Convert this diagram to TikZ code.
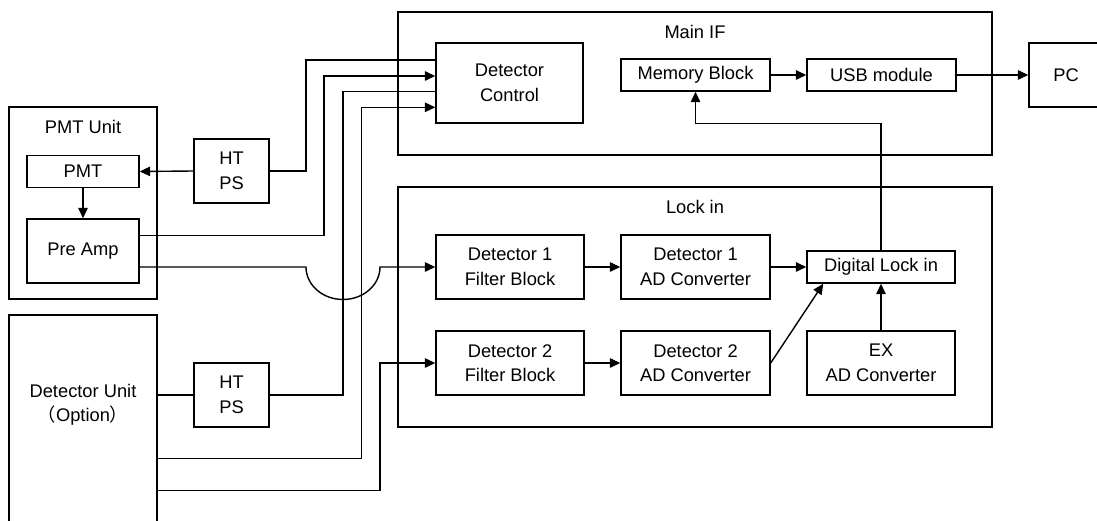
\documentclass[tikz,border=0pt]{standalone}
\usepackage{fontspec}
\setmainfont{Liberation Sans}
\newfontfamily\cjk{Noto Sans CJK SC}
\usetikzlibrary{arrows.meta}
\begin{document}
\begin{tikzpicture}[x=1pt,y=-1pt,
  every node/.style={font=\fontsize{18.3}{24.5}\selectfont},
  box/.style={draw,line width=1.4pt,inner sep=0pt,align=center},
  conn/.style={line width=1.4pt},
  arr/.style={line width=1.4pt,-{Triangle[length=10.5pt,width=9.5pt]}},
  title/.style={inner sep=0pt}]
\useasboundingbox (0,0) rectangle (1097,521);
\clip (0,0) rectangle (1097,521);
% containers
\node[box,minimum width=594,minimum height=143] (mainif) at (695,83.5) {};
\node[title] (mainift) at (695,32) {Main IF};
\node[box,minimum width=594,minimum height=240] (lockin) at (695,307) {};
\node[title] (lockint) at (695,207) {Lock in};
\node[box,minimum width=148,minimum height=192] (pmtunit) at (83,203) {};
\node[title] (pmtunitt) at (83,127) {PMT Unit};
\node[box,minimum width=148,minimum height=230] (detunit) at (83,430) {};
\node[title,align=center] (detunitt) at (83,405) {Detector Unit\\{\cjk （}Option{\cjk ）}};
% blocks
\node[box,minimum width=112,minimum height=31.5] (pmt) at (83,171.5) {PMT};
\node[box,minimum width=112,minimum height=64] (preamp) at (83,251) {Pre Amp};
\node[box,minimum width=75,minimum height=64] (htps1) at (231.5,171) {HT\\PS};
\node[box,minimum width=75,minimum height=64] (htps2) at (231.5,395) {HT\\PS};
\node[box,minimum width=147,minimum height=80] (detctrl) at (509.5,83) {Detector\\Control};
\node[box,minimum width=149,minimum height=32] (memblk) at (695.5,75) {Memory Block};
\node[box,minimum width=149,minimum height=32] (usb) at (881.5,75) {USB module};
\node[box,minimum width=74,minimum height=64] (pc) at (1066,75) {PC};
\node[box,minimum width=148,minimum height=64] (filt1) at (510,267) {Detector 1\\Filter Block};
\node[box,minimum width=148,minimum height=64] (filt2) at (510,363) {Detector 2\\Filter Block};
\node[box,minimum width=149,minimum height=64] (ad1) at (695.5,267) {Detector 1\\AD Converter};
\node[box,minimum width=149,minimum height=64] (ad2) at (695.5,363) {Detector 2\\AD Converter};
\node[box,minimum width=148,minimum height=32] (dli) at (881,267) {Digital Lock in};
\node[box,minimum width=148,minimum height=64] (exad) at (881,363) {EX\\AD Converter};
% connectors
\draw[conn] (detctrl.west |- 0,60) -- (306,60) -- (306,171) -- (htps1.east);
\draw[arr] (htps1.west) -- (pmt.east);
\draw[arr] (pmt.south) -- (preamp.north);
\draw[arr] (preamp.east |- 0,235.7) -- (324,235.7) -- (324,76) -- (detctrl.west |- 0,76);
\draw[arr] (preamp.east |- 0,267) -- (306,267)
  .. controls (306,285) and (322.6,299.5) .. (343,299.5)
  .. controls (363.4,299.5) and (380,285) .. (380,267)
  -- (filt1.west);
\draw[conn] (detctrl.west |- 0,91.3) -- (343,91.3) -- (343,395) -- (htps2.east);
\draw[conn] (htps2.west) -- (detunit.east |- htps2.west);
\draw[arr] (detunit.east |- 0,458.3) -- (361.7,458.3) -- (361.7,107.3) -- (detctrl.west |- 0,107.3);
\draw[arr] (detunit.east |- 0,490.7) -- (380,490.7) -- (380,363) -- (filt2.west);
\draw[arr] (filt1.east) -- (ad1.west);
\draw[arr] (filt2.east) -- (ad2.west);
\draw[arr] (ad1.east) -- (dli.west);
\draw[arr] (ad2.east) -- ([xshift=17]dli.south west);
\draw[arr] (exad.north) -- (dli.south);
\draw[arr] (dli.north) -- (dli.north |- 0,123.3) -| (memblk.south);
\draw[arr] (memblk.east) -- (usb.west);
\draw[arr] (usb.east) -- (pc.west);
\end{tikzpicture}
\end{document}
